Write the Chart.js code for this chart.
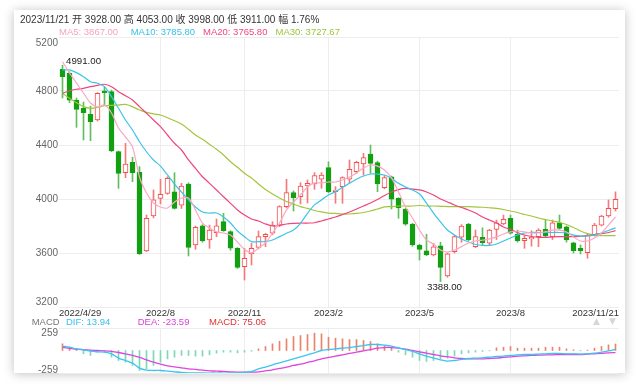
<!DOCTYPE html>
<html><head><meta charset="utf-8">
<script src="https://cdn.jsdelivr.net/npm/chart.js@4.4.0/dist/chart.umd.min.js"></script>
<style>
html,body{margin:0;padding:0;background:#fff;width:640px;height:388px;overflow:hidden;font-family:"Liberation Sans","Noto Sans CJK SC",sans-serif;}
#card{position:absolute;left:14px;top:10px;width:611px;height:363px;background:#fff;box-shadow:0 1px 10px rgba(0,0,0,0.25);}
.t{position:absolute;white-space:nowrap;line-height:1;}
canvas{position:absolute;left:0;}
</style></head><body>
<div id="card"></div>
<canvas id="main" width="640" height="320" style="top:0"></canvas>
<canvas id="macd" width="640" height="68" style="top:320px"></canvas>
<div class="t" style="left:20px;top:15px;font-size:10px;color:#333">2023/11/21 开 3928.00 高 4053.00 收 3998.00 低 3911.00 幅 1.76%</div>
<div class="t" id="maLegend" style="left:0;top:27px;font-size:9.5px"></div>
<div class="t" id="macdLegend" style="left:0;top:317px;font-size:9.5px"></div>
<div class="t" style="left:593px;top:317px;font-size:9px;color:#d6d6d6;font-family:'DejaVu Sans'">▲</div>
<div class="t" style="left:609px;top:317px;font-size:9px;color:#d6d6d6;font-family:'DejaVu Sans'">▼</div>
<script>
const dates = ['2022/4/29','2022/5/6','2022/5/13','2022/5/20','2022/5/27','2022/6/2','2022/6/10','2022/6/17','2022/6/24','2022/7/1',
'2022/7/8','2022/7/15','2022/7/22','2022/7/29','2022/8/5','2022/8/12','2022/8/19','2022/8/26','2022/9/2','2022/9/9',
'2022/9/16','2022/9/23','2022/9/30','2022/10/14','2022/10/21','2022/10/28','2022/11/4','2022/11/11','2022/11/18','2022/11/25',
'2022/12/2','2022/12/9','2022/12/16','2022/12/23','2022/12/30','2023/1/6','2023/1/13','2023/1/20','2023/2/3','2023/2/10',
'2023/2/17','2023/2/24','2023/3/3','2023/3/10','2023/3/17','2023/3/24','2023/3/31','2023/4/7','2023/4/14','2023/4/21',
'2023/4/28','2023/5/5','2023/5/12','2023/5/19','2023/5/26','2023/6/2','2023/6/9','2023/6/16','2023/6/21','2023/6/30',
'2023/7/7','2023/7/14','2023/7/21','2023/7/28','2023/8/4','2023/8/11','2023/8/18','2023/8/25','2023/9/1','2023/9/8',
'2023/9/15','2023/9/22','2023/9/28','2023/10/13','2023/10/20','2023/10/27','2023/11/3','2023/11/10','2023/11/17','2023/11/21'];

const opens = [4960,4931,4733,4672,4627,4585,4802,4795,4351,4195,
4272,4198,3615,3874,4005,4042,4054,3955,4111,3659,
3802,3696,3750,3832,3758,3635,3499,3593,3642,3721,
3746,3807,3943,4047,4017,4096,4111,4146,4232,4055,
4091,4146,4202,4259,4333,4269,4084,4165,4005,3926,
3813,3659,3617,3585,3654,3430,3610,3717,3813,3647,
3717,3672,3775,3815,3857,3741,3691,3704,3721,3775,
3721,3824,3794,3676,3635,3602,3733,3807,3874,3928];
const highs = [4991,4943,4748,4718,4688,4788,4832,4807,4356,4413,
4309,4240,3881,4067,4146,4165,4195,4116,4120,3800,
3810,3807,3852,3894,3765,3640,3635,3672,3763,3745,
3832,3950,4146,4060,4121,4141,4195,4195,4276,4091,
4165,4289,4280,4338,4400,4280,4173,4170,4010,3930,
3820,3665,3739,3672,3680,3600,3730,3810,3820,3770,
3787,3775,3844,3881,3881,3770,3730,3765,3780,3844,
3844,3881,3800,3680,3660,3745,3820,3880,3993,4053];
const lows = [4748,4714,4531,4437,4432,4578,4696,4350,4079,4158,
4128,3590,3610,3860,3963,4035,3925,3930,3578,3627,
3680,3635,3720,3760,3620,3485,3400,3511,3630,3647,
3735,3795,3935,3911,3963,3970,4072,4079,4045,3968,
3968,4120,4190,4178,4190,4054,4075,3926,3857,3805,
3650,3548,3580,3578,3388,3420,3600,3680,3690,3640,
3660,3660,3700,3810,3740,3680,3635,3650,3647,3720,
3700,3775,3680,3600,3593,3561,3725,3800,3865,3911];
const closes = [4906,4733,4664,4640,4573,4783,4788,4356,4190,4259,
4195,3593,3857,3993,4035,4153,3931,4096,3642,3790,
3689,3770,3802,3765,3635,3494,3561,3635,3721,3739,
3807,3943,4047,4010,4096,4116,4173,4178,4054,4067,
4158,4220,4272,4306,4264,4111,4158,3998,3936,3813,
3659,3627,3585,3645,3494,3593,3721,3800,3696,3721,
3676,3770,3824,3850,3746,3691,3709,3717,3770,3726,
3824,3783,3696,3617,3617,3733,3807,3874,3931,3998];

const ma5 = [5017,4933,4859,4785,4711,4681,4696,4637,4526,4459,
4385,4163,4044,3970,3941,3933,3978,4007,4007,3919,
3822,3785,3756,3748,3733,3681,3626,3602,3637,3674,
3748,3822,3919,3978,4030,4089,4119,4119,4126,4126,
4141,4163,4193,4230,4252,4244,4215,4156,4052,3941,
3859,3770,3696,3667,3622,3607,3622,3647,3674,3689,
3696,3704,3719,3741,3756,3763,3756,3748,3748,3758,
3770,3770,3756,3719,3689,3689,3711,3748,3807,3867];
const ma10 = [4956,4956,4936,4906,4869,4857,4832,4758,4672,4585,
4511,4424,4350,4289,4244,4178,4111,4052,3993,3941,
3904,3896,3896,3867,3822,3763,3721,3684,3684,3684,
3696,3721,3746,3770,3820,3894,3956,3993,4030,4054,
4087,4116,4146,4170,4185,4185,4178,4153,4116,4089,
4067,4037,3970,3896,3830,3770,3733,3704,3681,3663,
3656,3656,3667,3689,3711,3733,3748,3752,3752,3752,
3752,3752,3748,3733,3726,3726,3733,3748,3767,3786];
const ma20 = [4783,4802,4813,4820,4832,4842,4850,4832,4795,4765,
4733,4684,4635,4585,4536,4474,4413,4363,4289,4227,
4165,4116,4067,4017,3968,3919,3881,3852,3837,3815,
3800,3804,3815,3820,3822,3822,3824,3837,3852,3867,
3885,3904,3926,3948,3970,3996,4026,4052,4070,4078,
4074,4067,4052,4030,4000,3978,3956,3937,3919,3896,
3867,3844,3822,3793,3774,3752,3733,3722,3716,3716,
3719,3721,3721,3721,3724,3728,3737,3744,3752,3766];
const ma30 = [4783,4746,4713,4684,4672,4679,4691,4694,4696,4701,
4684,4659,4642,4630,4622,4602,4580,4556,4516,4474,
4442,4405,4368,4326,4276,4235,4190,4156,4111,4070,
4037,4007,3981,3963,3944,3930,3915,3904,3896,3893,
3889,3889,3893,3900,3911,3926,3941,3944,3948,3948,
3948,3952,3948,3948,3946,3944,3943,3943,3943,3941,
3939,3935,3930,3922,3911,3900,3885,3874,3859,3848,
3837,3826,3811,3789,3763,3744,3733,3728,3729,3728];

const dif = [50,38,19,8,-8,-15,-19,-38,-88,-115,
-146,-203,-226,-230,-230,-237,-245,-253,-257,-257,
-257,-260,-260,-260,-257,-257,-253,-241,-211,-192,
-165,-142,-119,-96,-73,-50,-27,0,11,19,
27,34,46,57,69,69,61,50,31,11,
-11,-38,-65,-88,-107,-123,-115,-103,-92,-88,
-84,-77,-69,-65,-57,-50,-46,-46,-42,-38,
-34,-34,-38,-38,-42,-38,-31,-19,-4,13.94];
const dea = [38,25,15,10,5,0,-4,-11,-23,-38,
-57,-80,-107,-134,-157,-176,-188,-199,-211,-218,
-226,-234,-237,-241,-245,-249,-249,-249,-245,-234,
-222,-207,-192,-172,-157,-138,-119,-96,-80,-65,
-50,-34,-19,-4,11,27,34,34,27,15,
0,-15,-31,-46,-61,-73,-84,-92,-96,-96,
-96,-92,-88,-80,-73,-65,-61,-57,-54,-50,
-50,-46,-46,-46,-46,-42,-38,-34,-27,-23.59];
const macdHist = [77,38,19,-38,-57,-19,-19,-77,-115,-134,
-172,-230,-211,-172,-134,-96,-77,-57,-57,-65,
-65,-50,-31,-19,-19,-27,-19,-8,19,46,
77,107,134,161,172,184,199,192,153,142,
134,126,126,115,103,77,57,38,-19,-50,
-77,-115,-126,-115,-96,-88,-65,-38,-27,-19,
-11,-4,31,38,46,27,27,27,27,38,
38,38,19,8,-4,4,27,46,65,75.06];

const xTickIdx = [0,14,26,38,51,64,79];
const xTickText = ['2022/4/29','2022/8','2022/11','2023/2','2023/5','2023/8','2023/11/21'];
const yTicks = [5200,4800,4400,4000,3600,3200];
const macdTicks = [259,-259];

const maLegend = [['MA5: 3867.00','#f7a3c0',59],['MA10: 3785.80','#37c2e6',130.7],['MA20: 3765.80','#f0457d',203],['MA30: 3727.67','#9fc43a',275.5]];
const macdLegend = [['MACD','#777',31.7],['DIF: 13.94','#36c0ee',66],['DEA: -23.59','#dc40dc',137.7],['MACD: 75.06','#e03131',209]];

const FONT = '"Liberation Sans","Noto Sans CJK SC",sans-serif';
const UP = '#f24e4e', DOWN = '#12a012';
const UPW = '#f47a7a', DOWNW = '#5fbf5f';
const GRID = '#ededed';

function addLegend(id, items){
  const el = document.getElementById(id);
  items.forEach(([t,c,x])=>{
    const s = document.createElement('span');
    s.textContent = t; s.style.position='absolute'; s.style.left = x+'px'; s.style.color = c;
    el.appendChild(s);
  });
}
addLegend('maLegend', maLegend);
addLegend('macdLegend', macdLegend);

const isUp = closes.map((c,i)=>c>=opens[i]);
const gridColor = ctx => (xTickIdx.includes(ctx.index) && ctx.index!==0 && ctx.index!==dates.length-1) ? GRID : 'rgba(0,0,0,0)';

const mainLabels = {
  id:'mainLabels',
  afterDraw(chart){
    const {ctx, chartArea:a, scales:{x,y}} = chart;
    ctx.save();
    ctx.font = '10px '+FONT; ctx.fillStyle='#666'; ctx.textAlign='right'; ctx.textBaseline='middle';
    yTicks.forEach((v,k)=>{
      let py = y.getPixelForValue(v);
      if (k===0) py += 6; else if (k===yTicks.length-1) py -= 5;
      ctx.fillText(String(v), a.left-1, py);
    });
    ctx.font = '9.5px '+FONT; ctx.fillStyle='#333';
    xTickIdx.forEach((idx,k)=>{
      let tx = x.getPixelForValue(idx);
      if (k===0){ ctx.textAlign='left'; tx = a.left; }
      else if (k===xTickIdx.length-1){ ctx.textAlign='right'; tx = a.right; }
      else ctx.textAlign='center';
      ctx.fillText(xTickText[k], tx, a.bottom+6.5);
    });
    // max / min annotations
    let hi = 0, lo = 0;
    highs.forEach((v,i)=>{ if (v>highs[hi]) hi=i; });
    lows.forEach((v,i)=>{ if (v<lows[lo]) lo=i; });
    ctx.font = '9.7px '+FONT; ctx.fillStyle='#222';
    ctx.textAlign='left';
    ctx.fillText(highs[hi].toFixed(2), x.getPixelForValue(hi)+3.5, y.getPixelForValue(highs[hi])-4);
    ctx.textAlign='center';
    ctx.fillText(lows[lo].toFixed(2), x.getPixelForValue(lo)+4, y.getPixelForValue(lows[lo])+5.5);
    ctx.restore();
  }
};

const lineDs = (data,color,w) => ({type:'line', data, borderColor:color, borderWidth:w, pointRadius:0, tension:0.3, fill:false, order:0});

new Chart(document.getElementById('main'), {
  type:'bar',
  data:{labels:dates, datasets:[
    lineDs(ma5,'#f9a9c4',1.2),
    lineDs(ma10,'#3cc4e8',1.2),
    lineDs(ma20,'#f0457d',1.2),
    lineDs(ma30,'#a3c63c',1.2),
    {type:'bar', data:opens.map((o,i)=>[o,closes[i]]), backgroundColor:isUp.map(u=>u?'#ffffff':DOWN), borderColor:isUp.map(u=>u?UP:DOWN), borderWidth:1, borderSkipped:false, barThickness:5, grouped:false, order:1},
    {type:'bar', data:lows.map((l,i)=>[l,highs[i]]), backgroundColor:isUp.map(u=>u?UPW:DOWNW), borderWidth:0, barThickness:1, grouped:false, order:2}
  ]},
  options:{
    responsive:false, animation:false, devicePixelRatio:1,
    layout:{padding:{left:59,right:21,top:37,bottom:13}},
    plugins:{legend:{display:false}, tooltip:{enabled:false}},
    scales:{
      x:{type:'category', offset:true, grid:{offset:false, drawTicks:false, color:gridColor}, ticks:{display:false}, border:{display:false}},
      y:{min:3200, max:5200, ticks:{display:false, stepSize:400}, grid:{drawTicks:false, color:GRID}, border:{display:false}}
    }
  },
  plugins:[mainLabels]
});

const macdLabels = {
  id:'macdLabels',
  afterDraw(chart){
    const {ctx, chartArea:a, scales:{y}} = chart;
    ctx.save();
    ctx.font='10px '+FONT; ctx.fillStyle='#666'; ctx.textAlign='right'; ctx.textBaseline='middle';
    macdTicks.forEach((v,k)=>{
      let py = y.getPixelForValue(v);
      py += (k===0) ? 5.5 : -2.5;
      ctx.fillText(String(v), a.left-1, py);
    });
    ctx.restore();
  }
};

new Chart(document.getElementById('macd'), {
  type:'bar',
  data:{labels:dates, datasets:[
    lineDs(dif,'#3cc4f0',1.3),
    lineDs(dea,'#e044dc',1.3),
    {type:'bar', data:macdHist, backgroundColor:macdHist.map(v=>v>=0?'#e8846a':'#7cd9b6'), borderWidth:0, barThickness:1, order:1}
  ]},
  options:{
    responsive:false, animation:false, devicePixelRatio:1,
    layout:{padding:{left:59,right:21,top:8,bottom:15}},
    plugins:{legend:{display:false}, tooltip:{enabled:false}},
    scales:{
      x:{type:'category', offset:true, grid:{offset:false, drawTicks:false, color:gridColor}, ticks:{display:false}, border:{display:false}},
      y:{min:-259, max:259, ticks:{display:false}, afterBuildTicks:s=>{ s.ticks = macdTicks.map(v=>({value:v})); }, grid:{drawTicks:false, color:GRID}, border:{display:false}}
    }
  },
  plugins:[macdLabels]
});
</script>
</body></html>
